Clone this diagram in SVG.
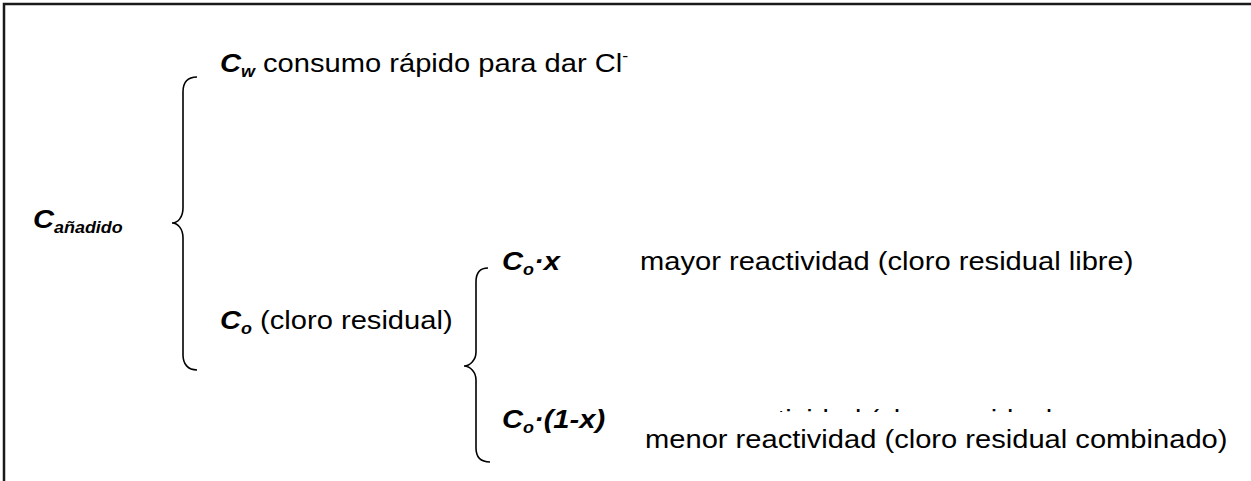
<svg xmlns="http://www.w3.org/2000/svg" width="1251" height="481" viewBox="0 0 1251 481">
  <style>
    text { font-family: "Liberation Sans", Arial, sans-serif; font-size: 26px; fill: #000; }
    .v { font-weight: bold; font-style: italic; }
    .sub { font-weight: bold; font-style: italic; font-size: 16px; }
    .sup { font-size: 16px; }
    .brace { fill: none; stroke: #000; stroke-width: 1.6; }
    .frame { fill: none; stroke: #1a1a1a; stroke-width: 2.5; }
  </style>
  <defs>
    <clipPath id="topSlice">
      <rect x="560" y="405" width="520" height="7"/>
    </clipPath>
  </defs>

  <rect width="1251" height="481" fill="#fff"/>
  <!-- frame: only the top and left edges fall inside the page -->
  <path class="frame" d="M4,481 L4,4 L1251,4"/>

  <g id="connectors">
    <!-- main brace -->
    <path class="brace" d="M197,77 C188,77 183,82 183,92 L183,208 C183,217 178,223 172,223 C178,223 183,229 183,238 L183,355 C183,364 188,370 197,370"/>
    <!-- brace splitting residual chlorine -->
    <path class="brace" d="M488,268 C480,268 476,273 476,282 L476,352 C476,360 470,366 464,366 C470,366 476,372 476,380 L476,448 C476,457 481,462 490,462"/>
  </g>

  <g id="node-added">
    <text transform="translate(33,228) scale(1.12,1)"><tspan class="v">C</tspan><tspan class="sub" dy="5">añadido</tspan></text>
  </g>

  <g id="node-cw">
    <text transform="translate(220,72) scale(1.12,1)"><tspan class="v">C</tspan><tspan class="sub" dy="5">w</tspan><tspan dy="-5"> consumo rápido para dar Cl</tspan><tspan class="sup" dy="-11">-</tspan></text>
  </g>

  <g id="node-co">
    <text transform="translate(220,329) scale(1.12,1)"><tspan class="v">C</tspan><tspan class="sub" dy="5">o</tspan><tspan dy="-5"> (cloro residual)</tspan></text>
  </g>

  <g id="node-cox">
    <text transform="translate(502,270) scale(1.12,1)"><tspan class="v">C</tspan><tspan class="sub" dy="5">o</tspan><tspan class="v" dy="-5">·x</tspan></text>
    <text transform="translate(640,270) scale(1.12,1)">mayor reactividad (cloro residual libre)</text>
  </g>

  <g id="node-co1x">
    <text transform="translate(502,428) scale(1.12,1)"><tspan class="v">C</tspan><tspan class="sub" dy="5">o</tspan><tspan class="v" dy="-5">·(1-x)</tspan></text>
    <!-- earlier line, only its upper edge shows above the next one -->
    <g clip-path="url(#topSlice)">
      <text transform="translate(630,428) scale(1.12,1)">menor reactividad (cloro residual</text>
    </g>
    <text transform="translate(645,448) scale(1.12,1)">menor reactividad (cloro residual combinado)</text>
  </g>
</svg>
